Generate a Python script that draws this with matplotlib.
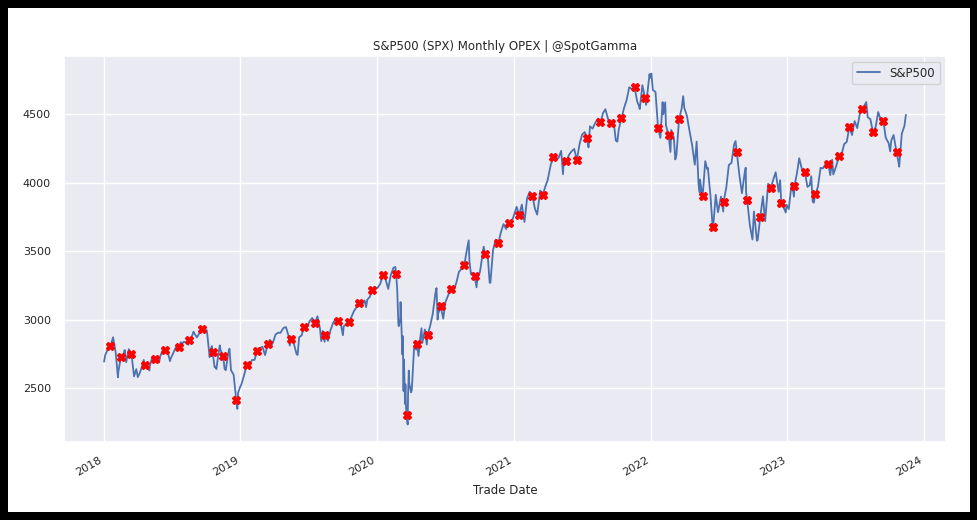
import matplotlib
matplotlib.use("Agg")
import matplotlib.pyplot as plt
import pandas as pd
import seaborn as sns
from matplotlib.patches import Rectangle


# S&P500 close (roughly weekly plus turning points)
spx_dates = [
    # 2018
    "2018-01-02", "2018-01-05", "2018-01-12", "2018-01-19", "2018-01-26", "2018-02-02", "2018-02-08",
    "2018-02-09", "2018-02-16", "2018-02-23", "2018-02-26", "2018-03-02", "2018-03-09", "2018-03-16",
    "2018-03-23", "2018-03-29", "2018-04-02", "2018-04-06", "2018-04-13", "2018-04-18", "2018-04-20",
    "2018-04-27", "2018-05-03", "2018-05-04", "2018-05-11", "2018-05-18", "2018-05-25", "2018-05-29",
    "2018-06-01", "2018-06-08", "2018-06-15", "2018-06-22", "2018-06-27", "2018-06-29", "2018-07-06",
    "2018-07-13", "2018-07-20", "2018-07-26", "2018-07-27", "2018-08-03", "2018-08-10", "2018-08-15",
    "2018-08-17", "2018-08-24", "2018-08-29", "2018-08-31", "2018-09-07", "2018-09-14", "2018-09-20",
    "2018-09-21", "2018-09-28", "2018-10-03", "2018-10-05", "2018-10-11", "2018-10-12", "2018-10-17",
    "2018-10-19", "2018-10-24", "2018-10-26", "2018-10-29", "2018-11-02", "2018-11-07", "2018-11-09",
    "2018-11-16", "2018-11-20", "2018-11-23", "2018-11-30", "2018-12-03", "2018-12-07", "2018-12-14",
    "2018-12-21", "2018-12-24", "2018-12-26", "2018-12-31",
    # 2019
    "2019-01-04", "2019-01-11", "2019-01-18", "2019-01-25", "2019-02-01", "2019-02-08", "2019-02-15",
    "2019-02-22", "2019-03-01", "2019-03-08", "2019-03-15", "2019-03-21", "2019-03-22", "2019-03-29",
    "2019-04-05", "2019-04-12", "2019-04-18", "2019-04-26", "2019-04-30", "2019-05-03", "2019-05-10",
    "2019-05-13", "2019-05-17", "2019-05-24", "2019-05-31", "2019-06-03", "2019-06-07", "2019-06-14",
    "2019-06-20", "2019-06-21", "2019-06-28", "2019-07-05", "2019-07-12", "2019-07-19", "2019-07-26",
    "2019-08-02", "2019-08-05", "2019-08-09", "2019-08-14", "2019-08-16", "2019-08-23", "2019-08-30",
    "2019-09-06", "2019-09-13", "2019-09-20", "2019-09-27", "2019-10-02", "2019-10-04", "2019-10-11",
    "2019-10-18", "2019-10-25", "2019-11-01", "2019-11-08", "2019-11-15", "2019-11-22", "2019-11-29",
    "2019-12-03", "2019-12-06", "2019-12-13", "2019-12-20", "2019-12-27", "2019-12-31",
    # 2020
    "2020-01-03", "2020-01-10", "2020-01-17", "2020-01-24", "2020-01-31", "2020-02-07", "2020-02-14",
    "2020-02-19", "2020-02-21", "2020-02-24", "2020-02-27", "2020-02-28", "2020-03-03", "2020-03-04",
    "2020-03-06", "2020-03-09", "2020-03-10", "2020-03-12", "2020-03-13", "2020-03-16", "2020-03-17",
    "2020-03-18", "2020-03-20", "2020-03-23", "2020-03-24", "2020-03-26", "2020-03-27", "2020-04-01",
    "2020-04-03", "2020-04-08", "2020-04-09", "2020-04-14", "2020-04-15", "2020-04-17", "2020-04-21",
    "2020-04-24", "2020-04-29", "2020-05-01", "2020-05-08", "2020-05-13", "2020-05-15", "2020-05-22",
    "2020-05-29", "2020-06-05", "2020-06-08", "2020-06-11", "2020-06-12", "2020-06-19", "2020-06-26",
    "2020-07-02", "2020-07-10", "2020-07-17", "2020-07-24", "2020-07-31", "2020-08-07", "2020-08-14",
    "2020-08-21", "2020-08-28", "2020-09-02", "2020-09-04", "2020-09-08", "2020-09-11", "2020-09-18",
    "2020-09-23", "2020-09-25", "2020-10-02", "2020-10-09", "2020-10-12", "2020-10-16", "2020-10-23",
    "2020-10-28", "2020-10-30", "2020-11-06", "2020-11-13", "2020-11-20", "2020-11-27", "2020-12-04",
    "2020-12-11", "2020-12-18", "2020-12-24", "2020-12-31",
    # 2021
    "2021-01-08", "2021-01-15", "2021-01-22", "2021-01-29", "2021-02-05", "2021-02-12", "2021-02-19",
    "2021-02-26", "2021-03-04", "2021-03-12", "2021-03-19", "2021-03-26", "2021-04-01", "2021-04-09",
    "2021-04-16", "2021-04-23", "2021-04-30", "2021-05-07", "2021-05-12", "2021-05-14", "2021-05-21",
    "2021-05-28", "2021-06-04", "2021-06-11", "2021-06-18", "2021-06-25", "2021-07-02", "2021-07-09",
    "2021-07-16", "2021-07-19", "2021-07-23", "2021-07-30", "2021-08-06", "2021-08-13", "2021-08-20",
    "2021-08-27", "2021-09-02", "2021-09-10", "2021-09-17", "2021-09-24", "2021-09-30", "2021-10-04",
    "2021-10-08", "2021-10-15", "2021-10-22", "2021-10-29", "2021-11-05", "2021-11-12", "2021-11-19",
    "2021-11-26", "2021-11-30", "2021-12-03", "2021-12-10", "2021-12-17", "2021-12-20", "2021-12-29",
    "2021-12-31",
    # 2022
    "2022-01-03", "2022-01-07", "2022-01-14", "2022-01-21", "2022-01-27", "2022-02-02", "2022-02-04",
    "2022-02-09", "2022-02-11", "2022-02-18", "2022-02-23", "2022-02-25", "2022-03-04", "2022-03-08",
    "2022-03-11", "2022-03-18", "2022-03-25", "2022-03-29", "2022-04-01", "2022-04-08", "2022-04-14",
    "2022-04-22", "2022-04-29", "2022-05-04", "2022-05-09", "2022-05-12", "2022-05-13", "2022-05-18",
    "2022-05-20", "2022-05-27", "2022-06-01", "2022-06-03", "2022-06-10", "2022-06-16", "2022-06-17",
    "2022-06-24", "2022-06-30", "2022-07-08", "2022-07-14", "2022-07-15", "2022-07-22", "2022-07-29",
    "2022-08-05", "2022-08-12", "2022-08-16", "2022-08-19", "2022-08-26", "2022-09-02", "2022-09-09",
    "2022-09-12", "2022-09-13", "2022-09-16", "2022-09-23", "2022-09-30", "2022-10-04", "2022-10-12",
    "2022-10-14", "2022-10-21", "2022-10-28", "2022-11-03", "2022-11-10", "2022-11-11", "2022-11-18",
    "2022-11-25", "2022-12-01", "2022-12-09", "2022-12-13", "2022-12-16", "2022-12-22", "2022-12-28",
    "2022-12-30",
    # 2023
    "2023-01-05", "2023-01-13", "2023-01-19", "2023-01-20", "2023-01-27", "2023-02-02", "2023-02-10",
    "2023-02-17", "2023-02-24", "2023-03-02", "2023-03-06", "2023-03-10", "2023-03-13", "2023-03-17",
    "2023-03-24", "2023-03-31", "2023-04-06", "2023-04-14", "2023-04-18", "2023-04-21", "2023-04-26",
    "2023-05-01", "2023-05-04", "2023-05-12", "2023-05-19", "2023-05-26", "2023-06-02", "2023-06-09",
    "2023-06-16", "2023-06-23", "2023-06-30", "2023-07-07", "2023-07-14", "2023-07-21", "2023-07-31",
    "2023-08-04", "2023-08-11", "2023-08-18", "2023-08-25", "2023-09-01", "2023-09-08", "2023-09-15",
    "2023-09-21", "2023-09-29", "2023-10-03", "2023-10-06", "2023-10-12", "2023-10-20", "2023-10-26",
    "2023-10-27", "2023-11-03", "2023-11-10", "2023-11-14",
]
spx_close = [
    # 2018
    2695, 2743, 2786, 2810, 2873, 2762, 2581,
    2620, 2732, 2747, 2780, 2691, 2786, 2752,
    2588, 2641, 2582, 2604, 2656, 2708, 2670,
    2670, 2630, 2663, 2728, 2713, 2721, 2690,
    2735, 2779, 2780, 2755, 2699, 2718, 2760,
    2801, 2802, 2837, 2819, 2840, 2833, 2818,
    2850, 2875, 2914, 2902, 2872, 2905, 2931,
    2930, 2914, 2926, 2886, 2728, 2767, 2809,
    2768, 2656, 2659, 2641, 2723, 2814, 2781,
    2736, 2641, 2633, 2760, 2790, 2633, 2600,
    2417, 2351, 2468, 2507,
    # 2019
    2532, 2596, 2671, 2665, 2707, 2708, 2776,
    2793, 2804, 2743, 2822, 2855, 2801, 2834,
    2893, 2907, 2905, 2940, 2946, 2946, 2881,
    2812, 2860, 2826, 2752, 2744, 2873, 2887,
    2954, 2950, 2942, 2990, 3014, 2977, 3026,
    2932, 2845, 2919, 2840, 2889, 2847, 2926,
    2979, 3007, 2992, 2962, 2888, 2952, 2970,
    2986, 3023, 3067, 3093, 3120, 3110, 3141,
    3093, 3146, 3169, 3221, 3240, 3231,
    # 2020
    3235, 3265, 3330, 3295, 3226, 3328, 3380,
    3386, 3338, 3226, 2979, 2954, 3003, 3130,
    2972, 2747, 2882, 2481, 2711, 2386, 2529,
    2398, 2305, 2237, 2447, 2630, 2541, 2471,
    2489, 2750, 2790, 2846, 2783, 2821, 2737,
    2837, 2939, 2831, 2930, 2820, 2886, 2955,
    3044, 3194, 3232, 3002, 3041, 3098, 3009,
    3130, 3185, 3225, 3216, 3271, 3351, 3373,
    3397, 3508, 3580, 3427, 3332, 3341, 3319,
    3237, 3298, 3348, 3477, 3534, 3484, 3465,
    3271, 3270, 3509, 3585, 3558, 3638, 3699,
    3663, 3709, 3703, 3756,
    # 2021
    3825, 3768, 3841, 3714, 3887, 3934, 3907,
    3811, 3768, 3943, 3913, 3975, 4020, 4129,
    4185, 4180, 4181, 4233, 4063, 4174, 4156,
    4204, 4230, 4247, 4166, 4281, 4352, 4370,
    4327, 4258, 4412, 4395, 4437, 4468, 4442,
    4509, 4537, 4459, 4433, 4455, 4308, 4300,
    4391, 4471, 4545, 4605, 4697, 4683, 4698,
    4595, 4567, 4538, 4712, 4621, 4568, 4793,
    4766,
    # 2022
    4797, 4677, 4663, 4398, 4327, 4589, 4500,
    4587, 4419, 4349, 4225, 4385, 4329, 4170,
    4204, 4463, 4543, 4632, 4546, 4488, 4393,
    4272, 4132, 4300, 3991, 3930, 4024, 3923,
    3901, 4158, 4101, 4109, 3901, 3667, 3675,
    3912, 3785, 3899, 3790, 3863, 3962, 4130,
    4145, 4280, 4305, 4228, 4058, 3924, 4067,
    4110, 3932, 3873, 3693, 3586, 3791, 3577,
    3583, 3753, 3901, 3720, 3956, 3993, 3965,
    4026, 4077, 3934, 4019, 3852, 3822, 3783,
    3840,
    # 2023
    3808, 3999, 3899, 3973, 4071, 4179, 4090,
    4079, 3970, 3982, 4048, 3862, 3855, 3917,
    3971, 4109, 4105, 4138, 4155, 4134, 4056,
    4168, 4061, 4124, 4192, 4205, 4282, 4299,
    4410, 4348, 4450, 4399, 4505, 4536, 4589,
    4478, 4464, 4370, 4406, 4516, 4457, 4450,
    4330, 4288, 4229, 4309, 4349, 4224, 4137,
    4117, 4358, 4415, 4496,
]

# monthly OPEX (third Friday) closes
opex_dates = [
    "2018-01-19", "2018-02-16", "2018-03-16", "2018-04-20", "2018-05-18", "2018-06-15",
    "2018-07-20", "2018-08-17", "2018-09-21", "2018-10-19", "2018-11-16", "2018-12-21",
    "2019-01-18", "2019-02-15", "2019-03-15", "2019-05-17", "2019-06-21", "2019-07-19",
    "2019-08-16", "2019-09-20", "2019-10-18", "2019-11-15", "2019-12-20",
    "2020-01-17", "2020-02-21", "2020-03-20", "2020-04-17", "2020-05-15", "2020-06-19",
    "2020-07-17", "2020-08-21", "2020-09-18", "2020-10-16", "2020-11-20", "2020-12-18",
    "2021-01-15", "2021-02-19", "2021-03-19", "2021-04-16", "2021-05-21", "2021-06-18",
    "2021-07-16", "2021-08-20", "2021-09-17", "2021-10-15", "2021-11-19", "2021-12-17",
    "2022-01-21", "2022-02-18", "2022-03-18", "2022-05-20", "2022-06-17", "2022-07-15",
    "2022-08-19", "2022-09-16", "2022-10-21", "2022-11-18", "2022-12-16",
    "2023-01-20", "2023-02-17", "2023-03-17", "2023-04-21", "2023-05-19", "2023-06-16",
    "2023-07-21", "2023-08-18", "2023-09-15", "2023-10-20",
]
opex_close = [
    2810, 2732, 2752, 2670, 2713, 2780,
    2802, 2850, 2930, 2768, 2736, 2417,
    2671, 2776, 2822, 2860, 2950, 2977,
    2889, 2992, 2986, 3120, 3221,
    3330, 3338, 2305, 2821, 2886, 3098,
    3225, 3397, 3319, 3484, 3558, 3709,
    3768, 3907, 3913, 4185, 4156, 4166,
    4327, 4442, 4433, 4471, 4698, 4621,
    4398, 4349, 4463, 3901, 3675, 3863,
    4228, 3873, 3753, 3965, 3852,
    3973, 4079, 3917, 4134, 4192, 4410,
    4536, 4370, 4450, 4224,
]

spx = pd.Series(spx_close, index=pd.to_datetime(spx_dates))
opex = pd.Series(opex_close, index=pd.to_datetime(opex_dates))

sns.set_theme(style="darkgrid")

fig = plt.figure(figsize=(9.78, 5.2), dpi=100, facecolor="black")
# white page inside the black frame
fig.patches.append(Rectangle((8 / 978, 8 / 520), 962 / 978, 504 / 520,
                             transform=fig.transFigure, facecolor="white",
                             edgecolor="none", zorder=-10))
ax = fig.add_axes([64 / 978, 78 / 520, 882 / 978, 386 / 520])

ax.plot(spx.index, spx.values, color="#4C72B0", linewidth=1.3, label="S&P500")
ax.plot(opex.index, opex.values, linestyle="none", marker="X", markersize=5.5,
        color="red", markeredgecolor="red")

ax.set_title("S&P500 (SPX) Monthly OPEX | @SpotGamma", fontsize=8.5, pad=4)
ax.set_xlabel("Trade Date", fontsize=8.5)
ax.tick_params(labelsize=8)
ax.set_yticks([2500, 3000, 3500, 4000, 4500])
for lab in ax.get_xticklabels():
    lab.set_rotation(30)
    lab.set_ha("right")
ax.legend(loc="upper right", fontsize=8.5)

fig.savefig("out.png", dpi=100)
